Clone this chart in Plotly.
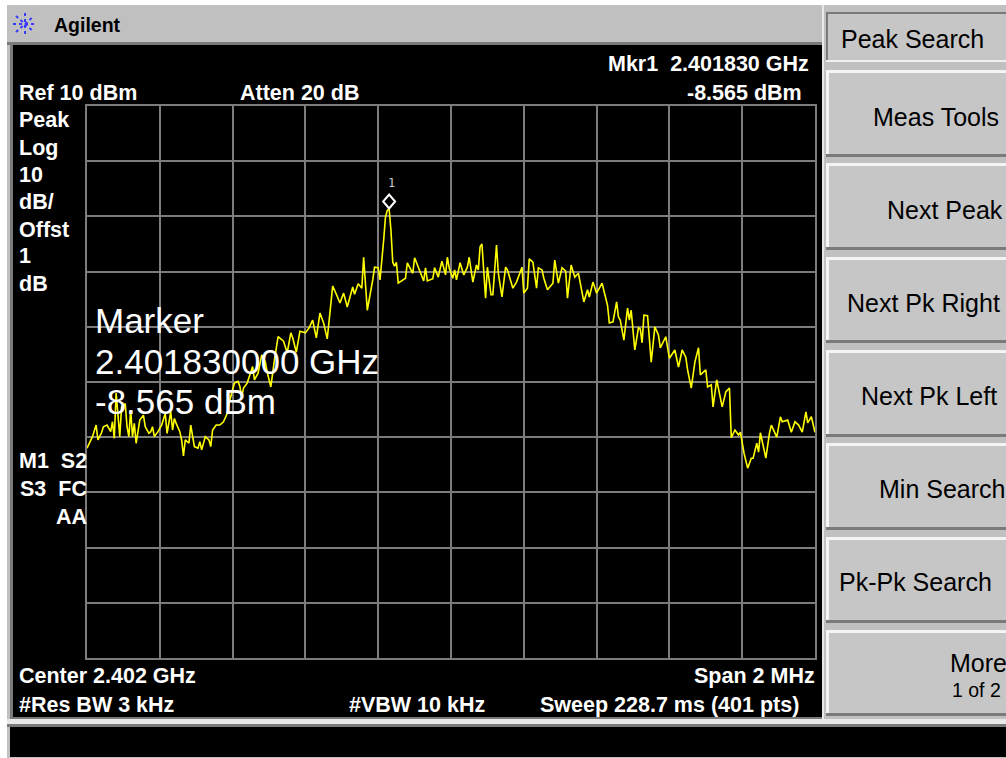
import plotly.graph_objects as go

W, H = 1006, 758

# ---- sweep settings ----
start_mhz = 2401.0
stop_mhz = 2403.0
n_points = 401
ref_level = 10.0
db_per_div = 10.0
n_div = 10

# ---- trace: sweep point index and level (dBm) ----
point_idx = [
    0, 3, 5, 6, 8, 9, 11, 13, 14, 15, 16, 17, 18, 19, 21, 22, 23, 24, 25, 26,
    27, 29, 31, 32, 34, 35, 36, 37, 39, 41, 43, 44, 45, 46, 47, 48, 49, 51, 52, 53,
    54, 56, 57, 58, 59, 61, 62, 63, 65, 67, 68, 69, 71, 73, 75, 77, 78, 80, 81, 83,
    84, 85, 86, 88, 90, 91, 92, 94, 96, 98, 99, 101, 103, 105, 108, 110, 112, 113, 115, 117,
    120, 122, 124, 126, 128, 130, 132, 134, 135, 137, 139, 141, 143, 146, 147, 149, 151, 152, 154, 157,
    158, 160, 161, 163, 164, 165, 166, 167, 168, 169, 170, 171, 174, 175, 176, 179, 180, 181, 183, 185,
    186, 187, 190, 191, 193, 195, 197, 198, 199, 201, 202, 203, 205, 207, 209, 210, 212, 214, 215, 216,
    217, 219, 220, 222, 223, 225, 226, 228, 230, 231, 234, 236, 239, 240, 242, 243, 245, 247, 248, 250,
    251, 253, 256, 257, 259, 261, 263, 264, 266, 268, 270, 271, 273, 275, 276, 278, 280, 283, 286, 287,
    289, 291, 292, 293, 295, 297, 298, 299, 301, 303, 304, 305, 306, 308, 310, 312, 314, 315, 318, 320,
    323, 325, 327, 329, 330, 332, 334, 336, 337, 340, 341, 343, 344, 346, 348, 349, 351, 353, 354, 356,
    358, 359, 361, 363, 365, 366, 368, 369, 370, 373, 375, 376, 379, 381, 382, 385, 387, 389, 391, 393,
    395, 396, 398, 400,
]
level_dbm = [
    -52.0, -49.9, -47.8, -50.5, -49.2, -48.1, -47.8, -49.0, -47.2, -50.2, -42.0, -45.7, -49.9, -44.5, -43.9, -48.1, -49.9, -45.1, -49.9, -47.5,
    -51.1, -46.9, -46.0, -48.1, -49.3, -49.0, -48.1, -49.9, -49.0, -47.8, -45.7, -49.3, -46.9, -45.4, -48.7, -46.6, -47.5, -49.0, -50.5, -53.4,
    -50.5, -51.1, -47.8, -49.6, -51.7, -52.0, -50.8, -52.3, -49.9, -50.5, -51.7, -48.7, -47.8, -47.8, -47.2, -45.7, -43.9, -41.4, -40.2, -39.9,
    -40.8, -42.7, -41.1, -40.2, -38.1, -37.2, -39.6, -38.4, -35.1, -36.4, -38.2, -40.9, -36.0, -31.8, -32.6, -34.7, -31.1, -32.0, -34.6, -30.8,
    -31.1, -30.2, -28.8, -32.0, -27.5, -29.3, -32.2, -25.1, -22.6, -24.1, -25.7, -23.9, -26.4, -22.8, -24.1, -22.2, -23.0, -17.4, -27.0, -21.5,
    -19.2, -19.3, -21.5, -14.3, -10.1, -8.9, -8.565, -12.5, -18.3, -19.0, -18.3, -22.1, -21.3, -21.2, -18.4, -20.3, -17.5, -18.3, -19.9, -21.7,
    -19.3, -21.7, -21.3, -19.3, -21.0, -18.1, -20.6, -17.4, -19.3, -21.2, -19.7, -21.5, -18.4, -20.6, -19.2, -17.4, -21.9, -18.8, -19.7, -15.5,
    -15.0, -24.8, -19.2, -24.2, -24.2, -15.2, -20.3, -24.6, -19.2, -19.7, -23.0, -21.9, -19.2, -23.9, -23.0, -17.7, -18.3, -23.0, -19.3, -19.7,
    -21.2, -23.3, -22.1, -17.9, -22.1, -19.3, -19.9, -24.8, -18.8, -21.0, -20.3, -21.9, -25.5, -23.3, -24.6, -21.9, -23.9, -22.1, -26.1, -29.3,
    -29.1, -25.5, -28.2, -28.8, -32.4, -26.6, -28.8, -27.0, -34.2, -30.2, -30.4, -32.9, -27.9, -28.0, -36.4, -30.0, -31.5, -33.8, -31.8, -35.7,
    -34.2, -37.3, -34.2, -35.5, -37.8, -41.1, -36.4, -33.8, -38.7, -37.8, -40.9, -40.5, -44.5, -39.6, -42.9, -44.5, -41.8, -41.1, -50.1, -48.7,
    -49.6, -49.1, -52.9, -55.6, -53.8, -53.8, -51.1, -52.7, -49.2, -53.8, -49.2, -47.8, -50.0, -46.3, -47.2, -46.9, -49.1, -47.2, -47.8, -49.1,
    -45.4, -47.4, -46.3, -49.1,
]

# ---- marker 1 ----
marker_idx = 166
marker_level = -8.565

step_mhz = (stop_mhz - start_mhz) / (n_points - 1)
freq_mhz = [start_mhz + i * step_mhz for i in point_idx]
marker_mhz = start_mhz + marker_idx * step_mhz
center_ghz = (start_mhz + stop_mhz) / 2 / 1000
span_mhz = stop_mhz - start_mhz

# ---- softkey menu ----
softkeys = [
    ("Peak Search", 12, 62),
    ("Meas Tools", 70, 157),
    ("Next Peak", 163, 250),
    ("Next Pk Right", 257, 343),
    ("Next Pk Left", 350, 437),
    ("Min Search", 443, 530),
    ("Pk-Pk Search", 537, 623),
    ("More", 630, 716),
]

# ---- colours / fonts ----
PANEL = "#c0c0c0"
KEY = "#c6c6c6"
DARK = "#7a7a7a"
GRID = "#7c7c7c"
TRACE = "#ffff00"
TXT = "Liberation Sans, Arial, sans-serif"
READOUT = 21.5


def px(x):
    return x / W


def py(y):
    return 1 - y / H


shapes = []


def rect(x0, y0, x1, y1, color, layer="below"):
    shapes.append(dict(type="rect", xref="paper", yref="paper",
                       x0=px(x0), x1=px(x1), y0=py(y1), y1=py(y0),
                       fillcolor=color, line=dict(width=0), layer=layer))


# window chrome
rect(0, 0, W, H, PANEL)
rect(0, 0, W, 5, "white")
rect(0, 0, 7, H, "white")
rect(7, 42, 822, 45, DARK)
rect(10, 45, 13, 720, DARK)
rect(13, 45, 822, 717, "black")
rect(10, 717, 822, 719, DARK)
rect(7, 719, W, 724, "#e8e8e8")
rect(7, 724, W, 727, DARK)
rect(10, 727, W, 757, "black")
rect(822, 5, 824, 719, "#e8e8e8")

# softkeys with bevelled edges
for i, (name, top, bot) in enumerate(softkeys):
    rect(826, top, W, bot, KEY)
    if i == 0:
        rect(826, top, W, top + 2, DARK)
        rect(826, top, 828, bot, DARK)
        rect(826, bot - 2, W, bot, "#f0f0f0")
    else:
        rect(826, top, W, top + 3, "#f4f4f4")
        rect(826, top, 829, bot, "#f4f4f4")
        rect(826, bot - 3, W, bot, DARK)

# Agilent starburst logo
cx, cy = 25, 24
for dx, dy in [(12, 0), (0, 11), (9, 8), (9, -8)]:
    shapes.append(dict(type="line", xref="paper", yref="paper",
                       x0=px(cx - dx), y0=py(cy - dy), x1=px(cx + dx), y1=py(cy + dy),
                       line=dict(color="#3a3aff", width=2, dash="dot"), layer="above"))

# marker diamond sitting on the marker point
shapes.append(dict(type="path", xref="x", yref="y", xsizemode="pixel", ysizemode="pixel",
                   xanchor=marker_mhz, yanchor=marker_level,
                   path="M 0 0 L 6 7 L 0 14 L -6 7 Z",
                   line=dict(color="white", width=2), fillcolor="rgba(0,0,0,0)", layer="above"))

annotations = []


def label(text, x, y, size=READOUT, color="white", anchor="left", bold=True, family=TXT):
    t = f"<b>{text}</b>" if bold else text
    annotations.append(dict(text=t, xref="paper", yref="paper", x=px(x), y=py(y),
                            xanchor=anchor, yanchor="middle", showarrow=False,
                            borderpad=0, borderwidth=0,
                            font=dict(size=size, color=color, family=family)))


label("Agilent", 54, 25, size=19.5, color="black")

# instrument readouts
label(f"Ref {ref_level:g} dBm", 19, 93)
label("Atten 20 dB", 240, 93)
label(f"Mkr1  {marker_mhz / 1000:.6f} GHz", 809, 64, anchor="right")
label(f"{marker_level:.3f} dBm", 802, 93, anchor="right")
for txt, y in [("Peak", 120), ("Log", 148), (f"{db_per_div:g}", 175), ("dB/", 202),
               ("Offst", 230), ("1", 256), ("dB", 284)]:
    label(txt, 19, y)
label("M1  S2", 87, 461, anchor="right")
label("S3  FC", 87, 489, anchor="right")
label("AA", 87, 517, anchor="right")
label(f"Center {center_ghz:.3f} GHz", 19, 676)
label(f"Span {span_mhz:g} MHz", 815, 676, anchor="right")
label("#Res BW 3 kHz", 19, 705)
label("#VBW 10 kHz", 349, 705)
label(f"Sweep 228.7 ms ({n_points} pts)", 799, 705, anchor="right")

# large marker readout
label("Marker", 95, 321, size=35, bold=False)
label(f"{marker_mhz / 1000:.9f} GHz", 95, 361, size=35, bold=False)
label(f"{marker_level:.3f} dBm", 95, 401, size=35, bold=False)

# softkey captions
key_pos = {
    "Peak Search": (841, "left", 39),
    "Meas Tools": (999, "right", 117),
    "Next Peak": (1003, "right", 210),
    "Next Pk Right": (1000, "right", 303),
    "Next Pk Left": (997, "right", 396),
    "Min Search": (1005, "right", 489),
    "Pk-Pk Search": (839, "left", 582),
    "More": (1007, "right", 663),
}
for name, top, bot in softkeys:
    x, anc, yc = key_pos[name]
    label(name, x, yc, size=25, color="black", anchor=anc, bold=False)
label("1 of 2", 1001, 690, size=19.5, color="black", anchor="right", bold=False)

# marker number above the diamond
annotations.append(dict(text="1", x=marker_mhz, y=marker_level, xref="x", yref="y",
                        yshift=25, xshift=2, showarrow=False,
                        font=dict(size=12, color="#c8c8c8", family="DejaVu Sans Mono")))

fig = go.Figure()
fig.add_trace(go.Scatter(x=freq_mhz, y=level_dbm, mode="lines",
                         line=dict(color=TRACE, width=1.6), hoverinfo="skip"))

bottom = ref_level - n_div * db_per_div
fig.update_layout(
    width=W, height=H,
    margin=dict(l=0, r=0, t=0, b=0),
    paper_bgcolor=PANEL,
    plot_bgcolor="black",
    showlegend=False,
    shapes=shapes,
    annotations=annotations,
    xaxis=dict(domain=[px(87), px(815)], range=[start_mhz, stop_mhz],
               tick0=start_mhz, dtick=span_mhz / n_div,
               showgrid=True, gridcolor=GRID, gridwidth=2,
               showline=True, linecolor=GRID, linewidth=2, mirror=True,
               zeroline=False, showticklabels=False, ticks="", fixedrange=True),
    yaxis=dict(domain=[py(658), py(106)], range=[bottom, ref_level],
               tick0=bottom, dtick=db_per_div,
               showgrid=True, gridcolor=GRID, gridwidth=2,
               showline=True, linecolor=GRID, linewidth=2, mirror=True,
               zeroline=False, showticklabels=False, ticks="", fixedrange=True),
)

fig.write_html("out.html", config=dict(displayModeBar=False))
